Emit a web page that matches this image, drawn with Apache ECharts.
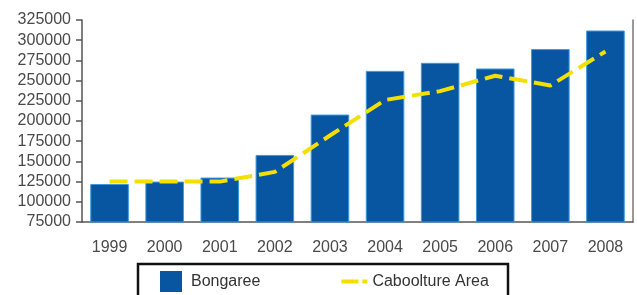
<!DOCTYPE html>
<html>
<head>
<meta charset="utf-8">
<style>
  html, body { margin: 0; padding: 0; background: #fff; }
  #chart { width: 637px; height: 295px; }
</style>
<script src="https://cdn.jsdelivr.net/npm/echarts@6/dist/echarts.min.js"></script>
</head>
<body>
<div id="chart"></div>
<script>
const years = ['1999', '2000', '2001', '2002', '2003', '2004', '2005', '2006', '2007', '2008'];
const bongaree = [122000, 125000, 130000, 158000, 208000, 262000, 272000, 265000, 289000, 312000];
const caboolture = [125000, 125000, 125000, 137000, 182000, 226000, 237000, 256000, 244000, 286000];

const chart = echarts.init(document.getElementById('chart'));
const textColor = '#4a4a4a';
const font = 'Liberation Sans, Arial, sans-serif';

// legend icons: square on the left, two yellow dashes; invisible points keep the box size
const squareIcon = 'path://M0,0h22v21h-22z M26,0L26,0.01';
const dashIcon = 'path://M0,8.5h17v4h-17z M21,8.5h5v4h-5z M0,0L0,0.01 M0,21L0,20.99';

chart.setOption({
  animation: false,
  grid: { left: 82, right: 4, top: 20, bottom: 73 },
  graphic: [{
    type: 'rect',
    shape: { x: 138, y: 264, width: 370, height: 45 },
    style: { fill: 'none', stroke: '#111', lineWidth: 2.5 },
    z: 100,
  }],
  legend: {
    left: 160, top: 271, padding: 0,
    itemWidth: 26, itemHeight: 21, itemGap: 81,
    textStyle: { color: '#333', fontSize: 16, fontFamily: font },
    data: [
      { name: 'Bongaree', icon: squareIcon, itemStyle: { borderWidth: 0 } },
      { name: 'Caboolture Area', icon: dashIcon, itemStyle: { borderWidth: 0 } },
    ],
  },
  xAxis: {
    type: 'category',
    data: years,
    axisLine: { lineStyle: { color: '#555', width: 1.5 } },
    axisTick: { alignWithLabel: true, length: 6, lineStyle: { color: '#555', width: 1.5 } },
    axisLabel: { color: textColor, fontSize: 16, fontFamily: font, margin: 18 },
  },
  yAxis: [{
    type: 'value',
    min: 75000, max: 325000, interval: 25000,
    axisLine: { show: true, lineStyle: { color: '#555', width: 1.5 } },
    axisTick: { show: true, length: 6, lineStyle: { color: '#555', width: 1.5 } },
    axisLabel: { color: textColor, fontSize: 16, fontFamily: font, margin: 11, formatter: v => String(v) },
    splitLine: { show: false },
  }, {
    type: 'value', position: 'right',
    min: 75000, max: 325000, interval: 25000,
    axisLine: { show: true, lineStyle: { color: '#777', width: 1.5 } },
    axisTick: { show: false },
    axisLabel: { show: false },
    splitLine: { show: false },
  }],
  series: [{
    name: 'Bongaree',
    type: 'bar',
    data: bongaree,
    barCategoryGap: '30%',
    itemStyle: { color: '#0855a2', borderColor: '#3c9ae0', borderWidth: 1 },
  }, {
    name: 'Caboolture Area',
    type: 'line',
    data: caboolture,
    symbol: 'none',
    lineStyle: { color: '#f4e000', width: 4, type: [18, 7] },
    itemStyle: { color: '#f4e000' },
    z: 5,
  }],
});
</script>
</body>
</html>
